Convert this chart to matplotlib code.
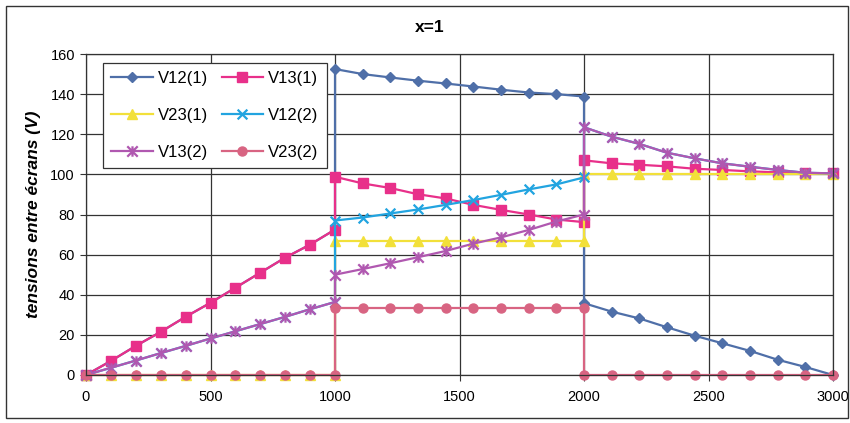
import matplotlib
matplotlib.use("Agg")
import matplotlib.pyplot as plt
from matplotlib.patches import Rectangle
from matplotlib.path import Path

plt.rcParams['font.family'] = ['Liberation Sans', 'DejaVu Sans']

# x positions (three segments)
x_vals = [0, 100, 200, 300, 400, 500, 600, 700, 800, 900, 1000,
          1000, 1111, 1222, 1333, 1444, 1556, 1667, 1778, 1889, 2000,
          2000, 2111, 2222, 2333, 2444, 2556, 2667, 2778, 2889, 3000]

V12_1 = [0, 7, 14.5, 21.5, 29, 36, 43.5, 51, 58.5, 65, 72.5,
         152.5, 150, 148.3, 146.7, 145.3, 143.8, 142.2, 140.8, 140, 138.8,
         35.8, 31.6, 28.2, 23.8, 19.6, 15.8, 12, 7.6, 4, 0]
V13_1 = [0, 7, 14.5, 21.5, 29, 36, 43.5, 51, 58.5, 65, 72.5,
         98.8, 95.5, 93.2, 90.1, 88, 84.8, 82.3, 80, 77.5, 76.2,
         107, 105.5, 104.8, 104, 102.8, 102.2, 101.5, 101, 100.7, 100.5]
V23_1 = [0, 0, 0, 0, 0, 0, 0, 0, 0, 0, 0,
         67, 67, 67, 67, 67, 67, 67, 67, 67, 67,
         100, 100, 100, 100, 100, 100, 100, 100, 100, 100]
V12_2 = [0, 3.6, 7.2, 10.9, 14.5, 18.2, 21.8, 25.4, 29, 32.8, 36.4,
         77, 78.5, 80.5, 82.5, 84.8, 87.2, 89.8, 92.5, 95, 98.5,
         123.5, 118.8, 115.2, 110.8, 108, 105.5, 103.8, 102.2, 100.8, 100.5]
V13_2 = [0, 3.6, 7.2, 10.9, 14.5, 18.2, 21.8, 25.4, 29, 32.8, 36.4,
         50, 52.8, 55.7, 58.7, 61.8, 65.5, 68.6, 72.3, 76.5, 80,
         123.5, 118.8, 115.2, 110.8, 108, 105.5, 103.8, 102.2, 100.8, 100.5]
V23_2 = [0, 0, 0, 0, 0, 0, 0, 0, 0, 0, 0,
         33.5, 33.5, 33.5, 33.5, 33.5, 33.5, 33.5, 33.5, 33.5, 33.5,
         0, 0, 0, 0, 0, 0, 0, 0, 0, 0]

series_names = ["V12(1)", "V13(1)", "V23(1)", "V12(2)", "V13(2)", "V23(2)"]
series_vals = [V12_1, V13_1, V23_1, V12_2, V13_2, V23_2]

x_ticks = [0, 500, 1000, 1500, 2000, 2500, 3000]
y_ticks = [0, 20, 40, 60, 80, 100, 120, 140, 160]

# Excel-like star marker: an "x" plus a vertical bar
star = Path([(-1, -1), (1, 1), (-1, 1), (1, -1), (0, -1), (0, 1)],
            [Path.MOVETO, Path.LINETO, Path.MOVETO, Path.LINETO, Path.MOVETO, Path.LINETO])
xmark = Path([(-1, -1), (1, 1), (-1, 1), (1, -1)],
             [Path.MOVETO, Path.LINETO, Path.MOVETO, Path.LINETO])

styles = [
    dict(color='#4f6fa8', marker='D', ms=5.5, fill=True),
    dict(color='#e8308a', marker='s', ms=6.5, fill=True),
    dict(color='#f2e03a', marker='^', ms=6.5, fill=True),
    dict(color='#22a4e0', marker=xmark, ms=7, mew=1.6, fill=False),
    dict(color='#b058b0', marker=star, ms=7.5, mew=1.6, fill=False),
    dict(color='#d86482', marker='o', ms=6.5, fill=True),
]

fig = plt.figure(figsize=(8.5, 4.23), dpi=100)
ax = fig.add_axes([86/850, 1-375/423, (833-86)/850, (375-54)/423])

handles = {}
for name, vals, st in zip(series_names, series_vals, styles):
    h, = ax.plot(x_vals, vals, lw=1.6, color=st['color'], marker=st['marker'],
                 ms=st['ms'], mew=st.get('mew', 1.0),
                 mfc=st['color'] if st['fill'] else 'none', mec=st['color'],
                 label=name, clip_on=False)
    handles[name] = h

ax.set_xlim(0, 3000)
ax.set_ylim(0, 160)
ax.set_xticks(x_ticks)
ax.set_yticks(y_ticks)
ax.grid(True, color='#333333', lw=0.9)
ax.set_axisbelow(True)
for s in ax.spines.values():
    s.set_color('#333333')
    s.set_linewidth(0.9)
ax.tick_params(axis='both', labelsize=10.5, length=4, color='#333333', pad=4)
ax.tick_params(axis='x', pad=7)

fig.text(430/850, 1-28/423, "x=1", fontsize=12.5, fontweight='bold',
         ha='center', va='center')
ax.set_ylabel("tensions entre écrans (V)", fontsize=12.5, fontstyle='italic',
              fontweight='bold', labelpad=7)

order = ["V12(1)", "V23(1)", "V13(2)", "V13(1)", "V12(2)", "V23(2)"]
leg = ax.legend([handles[n] for n in order], order, ncol=2, loc='upper left',
                bbox_to_anchor=(17/747, 1-9/321), fontsize=12, frameon=True,
                fancybox=False, edgecolor='#333333', framealpha=1,
                handlelength=2.5, columnspacing=0.8, labelspacing=1.3,
                borderpad=0.5, handletextpad=0.3, borderaxespad=0)
leg.get_frame().set_linewidth(0.9)

fig.patches.append(Rectangle((6/850, 5/423), 842/850, 412/423, transform=fig.transFigure,
                             fill=False, edgecolor='#333333', lw=1.0))

fig.savefig("out.png", dpi=100)
